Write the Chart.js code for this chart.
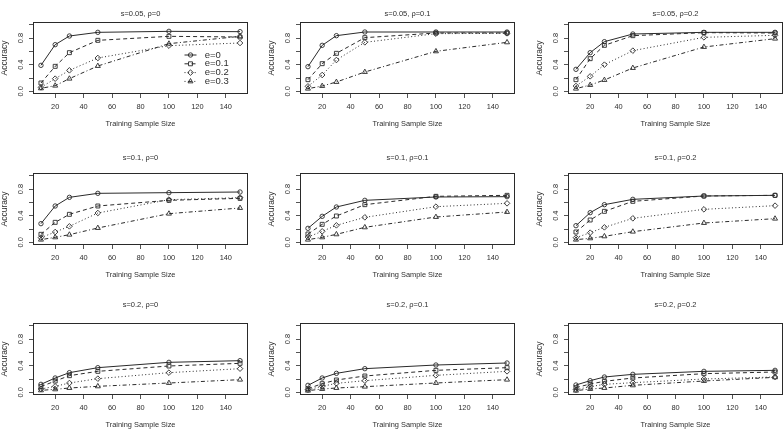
<!DOCTYPE html>
<html><head><meta charset="utf-8">
<script src="https://cdn.jsdelivr.net/npm/chart.js@4"></script>
<style>
html,body{margin:0;padding:0;background:#fff;overflow:hidden;width:784px;height:430px;position:relative;}
canvas{position:absolute;}
</style></head><body>
<script>
// ---------- data ----------
const sampleSizes = [10, 20, 30, 50, 100, 150];
const seriesLabels = ['e=0', 'e=0.1', 'e=0.2', 'e=0.3'];
const xTickValues = [20, 40, 60, 80, 100, 120, 140];
const yTickValues = [0, 0.2, 0.4, 0.6, 0.8, 1.0];
const yTickLabels = ['0.0', '', '0.4', '', '0.8', ''];
const panelTitles = ['s=0.05, ρ=0', 's=0.05, ρ=0.1', 's=0.05, ρ=0.2',
                     's=0.1, ρ=0', 's=0.1, ρ=0.1', 's=0.1, ρ=0.2',
                     's=0.2, ρ=0', 's=0.2, ρ=0.1', 's=0.2, ρ=0.2'];
const xAxisTitle = 'Training Sample Size';
const yAxisTitle = 'Accuracy';

const acc_s005_rho0 = [
  [0.39, 0.70, 0.83, 0.885, 0.90, 0.895],
  [0.125, 0.375, 0.58, 0.765, 0.825, 0.815],
  [0.06, 0.19, 0.315, 0.50, 0.685, 0.725],
  [0.045, 0.085, 0.19, 0.38, 0.715, 0.825]];
const acc_s005_rho01 = [
  [0.37, 0.69, 0.835, 0.89, 0.89, 0.89],
  [0.175, 0.415, 0.57, 0.805, 0.875, 0.875],
  [0.075, 0.245, 0.47, 0.735, 0.865, 0.87],
  [0.04, 0.08, 0.14, 0.29, 0.60, 0.735]];
const acc_s005_rho02 = [
  [0.33, 0.58, 0.745, 0.86, 0.885, 0.885],
  [0.175, 0.49, 0.69, 0.835, 0.88, 0.875],
  [0.08, 0.225, 0.40, 0.61, 0.81, 0.84],
  [0.04, 0.095, 0.17, 0.35, 0.665, 0.79]];
const acc_s01_rho0 = [
  [0.28, 0.545, 0.675, 0.735, 0.745, 0.755],
  [0.12, 0.30, 0.42, 0.545, 0.63, 0.66],
  [0.07, 0.155, 0.24, 0.44, 0.64, 0.67],
  [0.04, 0.075, 0.115, 0.215, 0.43, 0.515]];
const acc_s01_rho01 = [
  [0.21, 0.39, 0.53, 0.63, 0.68, 0.685],
  [0.125, 0.27, 0.395, 0.565, 0.69, 0.705],
  [0.08, 0.165, 0.255, 0.375, 0.535, 0.585],
  [0.04, 0.075, 0.12, 0.225, 0.38, 0.455]];
const acc_s01_rho02 = [
  [0.25, 0.445, 0.565, 0.645, 0.695, 0.705],
  [0.155, 0.335, 0.465, 0.615, 0.695, 0.705],
  [0.07, 0.145, 0.225, 0.36, 0.495, 0.55],
  [0.04, 0.06, 0.09, 0.16, 0.29, 0.355]];
const acc_s02_rho0 = [
  [0.12, 0.215, 0.295, 0.37, 0.45, 0.475],
  [0.085, 0.17, 0.25, 0.315, 0.395, 0.435],
  [0.05, 0.09, 0.14, 0.205, 0.295, 0.355],
  [0.03, 0.045, 0.065, 0.09, 0.14, 0.19]];
const acc_s02_rho01 = [
  [0.105, 0.215, 0.285, 0.355, 0.41, 0.44],
  [0.055, 0.13, 0.185, 0.245, 0.33, 0.37],
  [0.04, 0.09, 0.135, 0.175, 0.255, 0.315],
  [0.025, 0.05, 0.065, 0.085, 0.14, 0.19]];
const acc_s02_rho02 = [
  [0.11, 0.175, 0.23, 0.27, 0.315, 0.33],
  [0.07, 0.125, 0.165, 0.215, 0.28, 0.305],
  [0.04, 0.085, 0.12, 0.145, 0.20, 0.23],
  [0.025, 0.05, 0.065, 0.105, 0.17, 0.225]];

const panelData = [acc_s005_rho0, acc_s005_rho01, acc_s005_rho02,
                   acc_s01_rho0, acc_s01_rho01, acc_s01_rho02,
                   acc_s02_rho0, acc_s02_rho01, acc_s02_rho02];

// ---------- layout & style ----------
const FONT = "'Liberation Sans', Arial, Helvetica, sans-serif";
const INK = '#2a2a2a';
const TXT = '#2e2e2e';
const colBoxLeft = [33, 300, 568];
const rowBoxTop = [22, 173, 323];
const rowTitleY = [13.7, 157.2, 304.3];
const boxW = 215, boxH = 72;
const AXW = 36, AXH = 36, RPAD = 14;
const titleSize = 7.5, tickSize = 7.4, xlabSize = 7.4, ylabSize = 8.5, legSize = 9.5;
const dashes = [[], [4, 3], [1, 2.4], [1, 2.4, 4, 2.4]];
const pStyles = ['circle', 'rect', 'rectRot', 'triangle'];
const pRadii = [2.2, 2.8, 2.8, 2.9];

const boxPlugin = {
  id: 'box',
  afterDatasetsDraw(chart) {
    const a = chart.chartArea, ctx = chart.ctx;
    ctx.save();
    ctx.strokeStyle = INK; ctx.lineWidth = 1; ctx.setLineDash([]);
    ctx.strokeRect(Math.round(a.left) + 0.5, Math.round(a.top) + 0.5,
                   Math.round(a.right - a.left) - 1, Math.round(a.bottom - a.top) - 1);
    ctx.restore();
  }
};
const yLabelPlugin = {
  id: 'ylabels',
  afterDraw(chart) {
    const ys = chart.scales.y, ctx = chart.ctx;
    ctx.save();
    ctx.font = tickSize + 'px ' + FONT; ctx.fillStyle = TXT;
    ctx.textAlign = 'center'; ctx.textBaseline = 'middle';
    yTickValues.forEach((v, k) => {
      const lab = yTickLabels[k];
      if (!lab) return;
      ctx.save();
      ctx.translate(chart.chartArea.left - 12, ys.getPixelForValue(v));
      ctx.rotate(-Math.PI / 2);
      ctx.fillText(lab, 0, 0);
      ctx.restore();
    });
    ctx.restore();
  }
};
const legendPlugin = {
  id: 'rlegend',
  afterDraw(chart) {
    const a = chart.chartArea, ctx = chart.ctx;
    ctx.save();
    chart.data.datasets.forEach((ds, k) => {
      const y = a.bottom - 12.6 - (3 - k) * 8.8;
      const x0 = a.right - 63.5, x1 = a.right - 51.5;
      ctx.strokeStyle = INK; ctx.lineWidth = 1; ctx.setLineDash(ds.borderDash);
      ctx.beginPath(); ctx.moveTo(x0, y); ctx.lineTo(x1, y); ctx.stroke();
      ctx.setLineDash([]);
      ctx.lineWidth = 0.9; ctx.fillStyle = 'rgba(0,0,0,0)';
      Chart.helpers.drawPoint(ctx, {pointStyle: ds.pointStyle, radius: ds.pointRadius, borderWidth: 0.9, rotation: 0}, (x0 + x1) / 2, y);
      ctx.font = legSize + 'px ' + FONT; ctx.fillStyle = TXT;
      ctx.textAlign = 'left'; ctx.textBaseline = 'middle';
      ctx.fillText(ds.label, a.right - 43.3, y);
    });
    ctx.restore();
  }
};

panelData.forEach((vals, i) => {
  const r = Math.floor(i / 3), c = i % 3;
  const L = colBoxLeft[c], T = rowBoxTop[r];
  const tlh = titleSize * 1.2;
  const cTop = Math.round(rowTitleY[r] - 2 - tlh / 2);
  const q = T - cTop - 2 - tlh;
  const cv = document.createElement('canvas');
  const W = AXW + boxW + RPAD, H = (T - cTop) + boxH + AXH;
  cv.width = W; cv.height = H;
  cv.style.left = (L - AXW) + 'px'; cv.style.top = cTop + 'px';
  cv.style.width = W + 'px'; cv.style.height = H + 'px';
  document.body.appendChild(cv);

  const datasets = seriesLabels.map((lab, k) => ({
    label: lab,
    data: sampleSizes.map((x, j) => ({x: x, y: vals[k][j]})),
    borderColor: INK, borderWidth: 1, borderDash: dashes[k],
    pointStyle: pStyles[k], pointRadius: pRadii[k], pointBorderWidth: 0.9,
    pointBackgroundColor: 'rgba(0,0,0,0)', pointBorderColor: INK,
    tension: 0, fill: false
  }));

  const plugins = [boxPlugin, yLabelPlugin];
  if (i === 0) plugins.push(legendPlugin);

  new Chart(cv, {
    type: 'line',
    data: {datasets},
    options: {
      responsive: false, animation: false, devicePixelRatio: 1,
      layout: {padding: {left: 0, right: RPAD, top: 0, bottom: 0}},
      plugins: {
        legend: {display: false}, tooltip: {enabled: false},
        title: {display: true, text: panelTitles[i], fullSize: false,
                font: {family: FONT, size: titleSize, weight: 'normal'}, color: TXT,
                padding: {top: 2, bottom: q}}
      },
      scales: {
        x: {
          type: 'linear', min: 4.4, max: 155.6,
          afterBuildTicks: s => { s.ticks = xTickValues.map(v => ({value: v})); },
          afterFit: s => { s.height = AXH; },
          ticks: {autoSkip: false, maxRotation: 0, minRotation: 0, padding: 5,
                  font: {family: FONT, size: tickSize}, color: TXT, callback: v => String(v)},
          grid: {drawOnChartArea: false, drawTicks: true, tickLength: 4, color: INK, lineWidth: 0.8},
          border: {display: false},
          title: {display: true, text: xAxisTitle, font: {family: FONT, size: xlabSize}, color: TXT,
                  padding: {top: 0, bottom: 2}}
        },
        y: {
          type: 'linear', min: -0.04, max: 1.04,
          afterBuildTicks: s => { s.ticks = yTickValues.map(v => ({value: v})); },
          afterFit: s => { s.width = AXW; },
          ticks: {display: false},
          grid: {drawOnChartArea: false, drawTicks: true, tickLength: 4, color: INK, lineWidth: 0.8},
          border: {display: false},
          title: {display: true, text: yAxisTitle, font: {family: FONT, size: ylabSize}, color: TXT,
                  padding: {top: 3, bottom: 0}}
        }
      }
    },
    plugins
  });
});
</script>
</body></html>
